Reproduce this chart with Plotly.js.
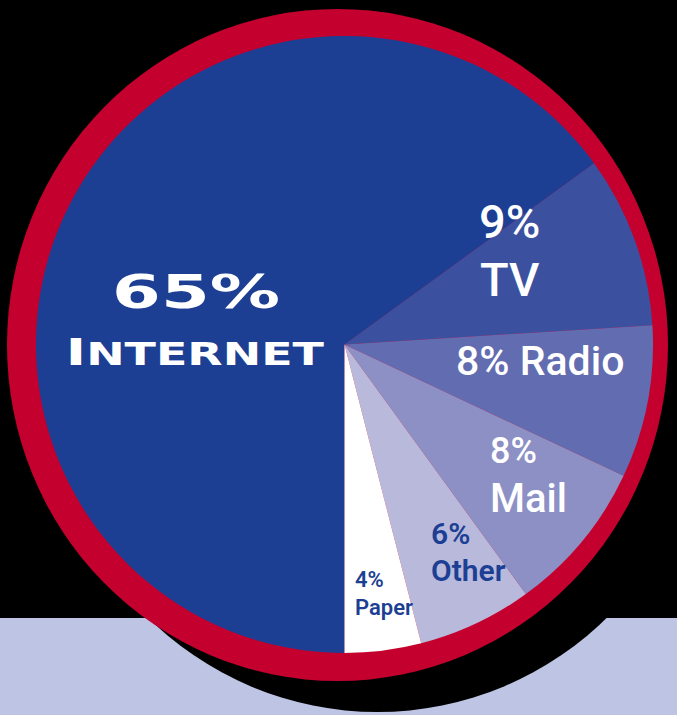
<!DOCTYPE html>
<html>
<head>
<meta charset="utf-8">
<script src="https://cdn.plot.ly/plotly-3.0.1.min.js"></script>
<style>html,body{margin:0;padding:0;background:#000;}#chart{width:677px;height:715px;}</style>
</head>
<body>
<div id="chart"></div>
<script>
// ---- data ----
const categories = ["Internet", "TV", "Radio", "Mail", "Other", "Paper"];
const shares = [65, 9, 8, 8, 6, 4];
const sliceColors = ["#1c3f94", "#3b51a0", "#626cb0", "#8c90c4", "#b8b9db", "#ffffff"];

const W = 677, H = 715;
const px = x => x / W;
const py = y => 1 - y / H;

const trace = {
  type: "pie",
  values: shares,
  labels: categories,
  sort: false,
  direction: "clockwise",
  rotation: 180,
  textinfo: "none",
  hoverinfo: "label+percent",
  marker: { colors: sliceColors, line: { width: 0 } },
  domain: { x: [px(36), px(653)], y: [py(653), py(36)] },
  showlegend: false
};

const pct = i => shares[i] + "%";
const white = "#ffffff", navy = "#1c3f94";
function ann(text, x, y, size, color, xanchor, weight, family) {
  return {
    text: text, x: px(x), y: py(y), xref: "paper", yref: "paper",
    xanchor: xanchor || "center", yanchor: "middle", showarrow: false,
    font: { family: family || "Roboto, 'Noto Sans', sans-serif", size: size, color: color, weight: weight || 500 }
  };
}
const wide = "'DejaVu Sans', Verdana, sans-serif";
const annotations = [
  ann(pct(0), 196, 292, 46, white, "center", "bold", wide),
  ann("<span style='font-size:38px'>" + categories[0].charAt(0).toUpperCase() + "</span>" + categories[0].slice(1).toUpperCase(), 195, 352, 32, white, "center", "bold", wide),
  ann(pct(1), 510, 221, 47, white),
  ann(categories[1], 510, 279, 47, white),
  ann(pct(2) + " " + categories[2], 540, 361, 41, white),
  ann(pct(3), 488, 451, 36, white, "left"),
  ann(categories[3], 488, 498, 40, white, "left"),
  ann(pct(4), 429, 533, 30, navy, "left", 600),
  ann(categories[4], 429, 570, 30, navy, "left", 600),
  ann(pct(5), 353, 579, 22, navy, "left", 600),
  ann(categories[5], 353, 607, 22, navy, "left", 600)
];

const shapes = [
  { type: "rect", xref: "paper", yref: "paper", x0: 0, x1: 1, y0: 0, y1: py(618),
    fillcolor: "#bec4e4", line: { width: 0 }, layer: "below" },
  { type: "circle", xref: "paper", yref: "paper", x0: px(47), x1: px(708), y0: py(712), y1: py(40),
    fillcolor: "#000000", line: { width: 0 }, layer: "below" },
  { type: "circle", xref: "paper", yref: "paper", x0: px(7), x1: px(668), y0: py(681), y1: py(9),
    fillcolor: "#c4002f", line: { width: 0 }, layer: "below" }
];

const layout = {
  width: W, height: H,
  margin: { l: 0, r: 0, t: 0, b: 0 },
  paper_bgcolor: "#000000",
  plot_bgcolor: "#000000",
  showlegend: false,
  shapes: shapes,
  annotations: annotations
};

// the headline label uses an extended face in the original; widen the real text to its span
const stretchTo = { 0: 168, 1: 258 };
Plotly.newPlot("chart", [trace], layout, { displayModeBar: false, staticPlot: true }).then(gd => {
  gd.querySelectorAll("g.annotation").forEach(g => {
    const idx = g.getAttribute("data-index");
    if (stretchTo[idx] !== undefined) {
      const t = g.querySelector("text.annotation-text");
      if (t) {
        t.setAttribute("textLength", stretchTo[idx]);
        t.setAttribute("lengthAdjust", "spacingAndGlyphs");
      }
    }
  });
});
</script>
</body>
</html>
